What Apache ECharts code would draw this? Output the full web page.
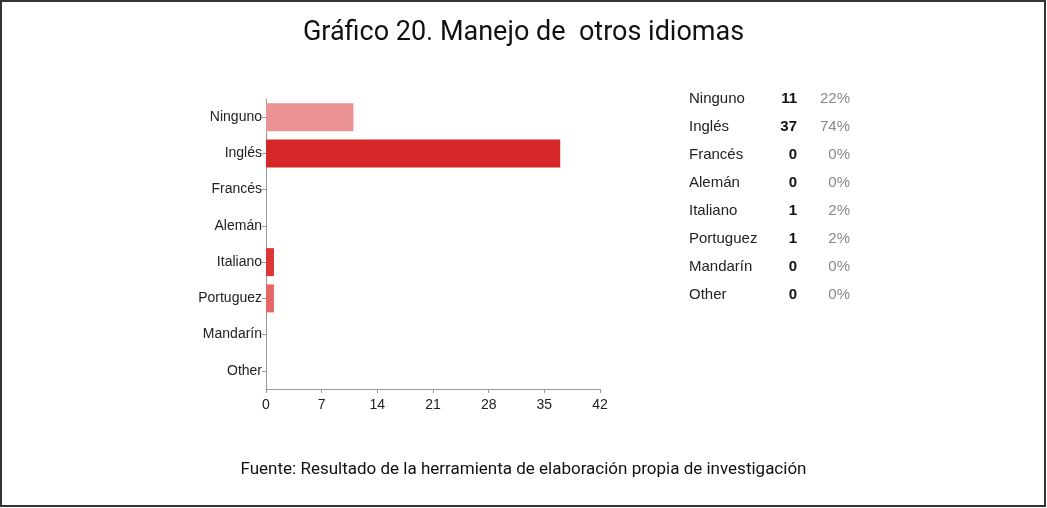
<!DOCTYPE html>
<html>
<head>
<meta charset="utf-8">
<script src="https://cdn.jsdelivr.net/npm/echarts@6/dist/echarts.min.js"></script>
<style>
  html, body { margin: 0; padding: 0; background: #fff; }
  #chart { width: 1047px; height: 508px; }
</style>
</head>
<body>
<div id="chart"></div>
<script>
// datos
var categorias = ['Ninguno', 'Inglés', 'Francés', 'Alemán', 'Italiano', 'Portuguez', 'Mandarín', 'Other'];
var respuestas = [11, 37, 0, 0, 1, 1, 0, 0];
var porcentajes = ['22%', '74%', '0%', '0%', '2%', '2%', '0%', '0%'];
var colores = ['#eb9292', '#d62828', '#e06060', '#e06060', '#dc3636', '#e46666', '#e06060', '#e06060'];
var ticksX = [0, 7, 14, 21, 28, 35, 42];

var myChart = echarts.init(document.getElementById('chart'));

// tabla de la derecha
var fuenteTabla = '"Liberation Sans", Arial, sans-serif';
var tabla = [];
categorias.forEach(function (c, i) {
    var y = 98 + i * 28;
    tabla.push({
        type: 'text', left: 689, top: y - 7,
        style: { text: c, fill: '#222', font: '15px ' + fuenteTabla }
    });
    tabla.push({
        type: 'text', right: 1047 - 797, top: y - 7,
        style: { text: String(respuestas[i]), fill: '#111', font: 'bold 15px ' + fuenteTabla, align: 'right' }
    });
    tabla.push({
        type: 'text', right: 1047 - 850, top: y - 7,
        style: { text: porcentajes[i], fill: '#888', font: '15px ' + fuenteTabla, align: 'right' }
    });
});

var option = {
    backgroundColor: '#fff',
    animation: false,
    title: [{
        text: 'Gráfico 20. Manejo de  otros idiomas',
        left: 'center',
        top: 15,
        textStyle: { fontFamily: 'Roboto', fontWeight: 'normal', fontSize: 27, color: '#111' }
    }, {
        text: 'Fuente: Resultado de la herramienta de elaboración propia de investigación',
        left: 'center',
        top: 456,
        textStyle: { fontFamily: 'Roboto', fontWeight: 'normal', fontSize: 17, color: '#111' }
    }],
    grid: { left: 266, right: 447, top: 99, height: 290 },
    xAxis: {
        type: 'value',
        min: 0,
        max: 42,
        interval: 7,
        axisLine: { show: true, lineStyle: { color: '#999' } },
        axisTick: { show: true, length: 4, lineStyle: { color: '#999' } },
        splitLine: { show: false },
        axisLabel: {
            color: '#222', fontFamily: '"Liberation Sans", Arial', fontSize: 14, margin: 9,
            formatter: function (v) { return ticksX.indexOf(v) >= 0 ? String(v) : ''; }
        }
    },
    yAxis: {
        type: 'category',
        data: categorias,
        inverse: true,
        axisLine: { show: true, lineStyle: { color: '#999' } },
        axisTick: { show: true, length: 4, alignWithLabel: true, lineStyle: { color: '#999' } },
        axisLabel: { color: '#222', fontFamily: '"Liberation Sans", Arial', fontSize: 14, margin: 4 }
    },
    series: [{
        type: 'bar',
        barWidth: 28,
        data: respuestas.map(function (v, i) {
            return { value: v, itemStyle: { color: colores[i] } };
        })
    }],
    graphic: [{
        type: 'rect',
        shape: { x: 1, y: 1, width: 1044, height: 505 },
        style: { fill: 'none', stroke: '#333', lineWidth: 2 }
    }].concat(tabla)
};

myChart.setOption(option);
</script>
</body>
</html>
